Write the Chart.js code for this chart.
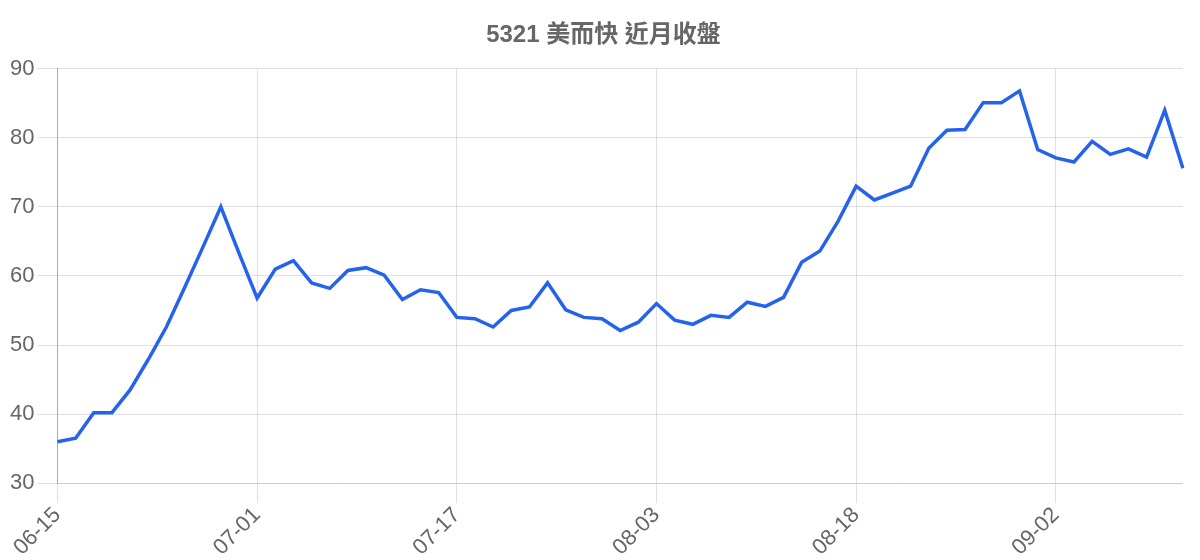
<!DOCTYPE html>
<html>
<head>
<meta charset="utf-8">
<script src="https://cdn.jsdelivr.net/npm/chart.js@4.4.0/dist/chart.umd.min.js"></script>
<style>
  html, body { margin: 0; padding: 0; background: #fff; }
  #wrap { width: 1200px; height: 560px; }
</style>
</head>
<body>
<div id="wrap"><canvas id="close"></canvas></div>
<script>
var dates = [
  '06-15', '06-16', '06-17', '06-18', '06-19', '06-20', '06-22', '06-23', '06-24', '06-29', '06-30',
  '07-01', '07-02', '07-03', '07-07', '07-08', '07-09', '07-10', '07-13', '07-14', '07-15', '07-16',
  '07-17', '07-20', '07-21', '07-22', '07-23', '07-24', '07-27', '07-28', '07-29', '07-30', '07-31',
  '08-03', '08-04', '08-05', '08-06', '08-07', '08-10', '08-11', '08-12', '08-13', '08-14', '08-17',
  '08-18', '08-19', '08-20', '08-21', '08-24', '08-25', '08-26', '08-27', '08-28', '08-31', '09-01',
  '09-02', '09-03', '09-04', '09-07', '09-08', '09-09', '09-10', '09-11'
];
var closes = [
  36.0, 36.5, 40.2, 40.2, 43.5, 47.9, 52.6, 58.3, 64.1, 70.0, 63.3,
  56.8, 61.0, 62.2, 59.0, 58.2, 60.8, 61.2, 60.1, 56.6, 58.0, 57.6,
  54.0, 53.8, 52.6, 55.0, 55.5, 59.0, 55.1, 54.0, 53.8, 52.1, 53.3,
  56.0, 53.6, 53.0, 54.3, 54.0, 56.2, 55.6, 56.9, 62.0, 63.6, 67.9,
  73.0, 71.0, 72.0, 73.0, 78.5, 81.1, 81.2, 85.1, 85.1, 86.8, 78.3,
  77.1, 76.5, 79.5, 77.6, 78.4, 77.2, 84.0, 75.6
];
var yTicks = [30, 40, 50, 60, 70, 80, 90];
var labelEvery = 11;

(function () {
  var family = "'Helvetica Neue', Helvetica, Arial, sans-serif";
  var gridColor = 'rgba(0,0,0,0.12)';

  new Chart(document.getElementById('close').getContext('2d'), {
    type: 'line',
    data: {
      labels: dates,
      datasets: [{
        label: '收盤',
        data: closes,
        borderColor: '#2563eb',
        backgroundColor: '#2563eb',
        borderWidth: 3.5,
        pointRadius: 0,
        tension: 0,
        fill: false
      }]
    },
    options: {
      responsive: true,
      maintainAspectRatio: false,
      animation: false,
      layout: { padding: { top: 11, left: 7, right: 0, bottom: 0 } },
      plugins: {
        legend: { display: false },
        tooltip: { enabled: false },
        title: {
          display: true,
          text: '5321 美而快 近月收盤',
          color: '#666',
          font: { family: family + ", 'Noto Sans CJK TC'", size: 24, weight: 'bold' },
          padding: { top: 10, bottom: 19 }
        }
      },
      scales: {
        x: {
          grid: {
            tickLength: 20,
            color: function (c) { return c.index % labelEvery === 0 ? gridColor : 'rgba(0,0,0,0)'; }
          },
          border: { color: '#cccccc' },
          ticks: {
            color: '#666',
            font: { family: family, size: 22, lineHeight: 1.1 },
            padding: 0,
            autoSkip: false,
            minRotation: 45,
            maxRotation: 45,
            callback: function (v, i) { return i % labelEvery === 0 ? this.getLabelForValue(v) : ''; }
          }
        },
        y: {
          min: yTicks[0],
          max: yTicks[yTicks.length - 1],
          grid: { color: gridColor, tickLength: 20 },
          border: { color: '#aaaaaa' },
          afterBuildTicks: function (axis) { axis.ticks = yTicks.map(function (v) { return { value: v }; }); },
          ticks: { color: '#666', font: { family: family, size: 22 }, padding: 3 }
        }
      }
    }
  });
})();
</script>
</body>
</html>
